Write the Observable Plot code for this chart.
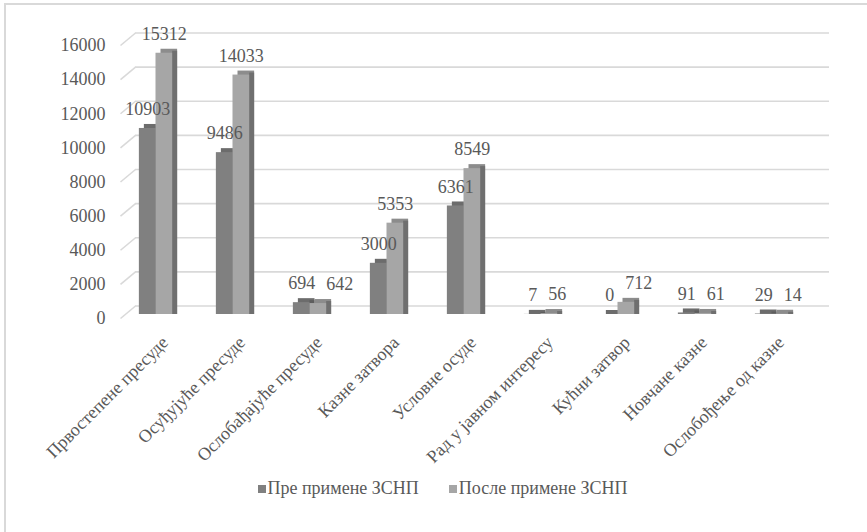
<!DOCTYPE html>
<html>
<head>
<meta charset="utf-8">
<script src="https://cdn.jsdelivr.net/npm/d3@7"></script>
<script src="https://cdn.jsdelivr.net/npm/@observablehq/plot@0.6"></script>
<style>
  html, body { margin: 0; padding: 0; background: #fff; }
  #wrap { position: relative; width: 867px; height: 532px; overflow: hidden; font-family: "Liberation Serif", "Times New Roman", serif; }
  #frame { position: absolute; left: 4px; top: 3px; width: 900px; height: 600px; border-left: 2px solid #d9d9d9; border-top: 2px solid #d9d9d9; box-sizing: border-box; pointer-events: none; }
  #chart { position: absolute; left: 0; top: 0; }
  #chart svg, #chart svg text { font-family: "Liberation Serif", "Times New Roman", serif !important; }
  #legend { position: absolute; left: 0; top: 478px; width: 867px; display: flex; justify-content: center; gap: 30px; font-size: 18px; color: #595959; padding-left: 18px; box-sizing: border-box; }
  .item { display: flex; align-items: center; gap: 2px; }
  .sw { width: 8px; height: 8px; display: inline-block; }
</style>
</head>
<body>
<div id="wrap">
  <div id="frame"></div>
  <div id="chart"></div>
  <div id="legend"></div>
</div>
<script>
const categories = [
  "Првостепене пресуде",
  "Осуђујуће пресуде",
  "Ослобађајуће пресуде",
  "Казне затвора",
  "Условне осуде",
  "Рад у јавном интересу",
  "Кућни затвор",
  "Новчане казне",
  "Ослобођење од казне"
];
const before = [10903, 9486, 694, 3000, 6361, 7, 0, 91, 29];
const after = [15312, 14033, 642, 5353, 8549, 56, 712, 61, 14];
const seriesNames = ["Пре примене ЗСНП", "После примене ЗСНП"];
const yTicks = [0, 2000, 4000, 6000, 8000, 10000, 12000, 14000, 16000];

// styles
const frontColors = ["#808080", "#a6a6a6"];
const topColors = ["#6c6c6c", "#8c8c8c"];
const sideColors = ["#5e5e5e", "#6f6f6f"];
const textColor = "#595959";
const gridColor = "#d9d9d9";
const font = "'Liberation Serif', 'Times New Roman', serif";
const fs = 18;

const W = 0.216; // half-group bar width in category units
const step = 77;  // px per category
const xDomain = [-0.461, 8.552];
const yDomain = [0, 16000];
const H = 475, marginTop = 41, marginBottom = H - 314;
const pxPerUnit = (H - marginBottom - marginTop) / (yDomain[1] - yDomain[0]);
const unitsPerPx = 1 / pxPerUnit;
const depthX = 15 / step; // wall depth in category units

const series = [before, after];
const rows = [];
series.forEach((vals, s) => {
  vals.forEach((v, i) => {
    rows.push({i, s, cat: categories[i], name: seriesNames[s], v,
      x1: s === 0 ? i - W : i, x2: s === 0 ? i : i + W, xc: s === 0 ? i - W / 2 : i + W / 2, dx: 0});
  });
});
// label collision avoidance: push the second label right when it collides with the first
const digitW = fs * 0.5, gap = 11;
categories.forEach((c, i) => {
  const a = rows.find(r => r.i === i && r.s === 0), b = rows.find(r => r.i === i && r.s === 1);
  if (Math.abs(a.v - b.v) * pxPerUnit < fs) {
    const wa = String(a.v).length * digitW, wb = String(b.v).length * digitW;
    const ca = a.xc * step, cb = b.xc * step;
    const need = ca + wa / 2 + gap + wb / 2;
    if (cb < need) b.dx = need - cb;
  }
});

const barMarks = [];
[0, 1].forEach(s => {
  const d = rows.filter(r => r.s === s);
  barMarks.push(
    Plot.rect(d, {x1: "x1", x2: "x2", y1: 0, y2: "v", fill: topColors[s], dx: 5, insetTop: -4}),
    Plot.rect(d, {x1: "x2", x2: "x2", y1: 0, y2: "v", fill: sideColors[s], insetRight: -5, insetTop: -2}),
    Plot.rect(d, {x1: "x1", x2: "x2", y1: 0, y2: "v", fill: frontColors[s]})
  );
});

const chart = Plot.plot({
  width: 867,
  height: H,
  marginLeft: 120,
  marginRight: 867 - 814,
  marginTop,
  marginBottom,
  style: {fontFamily: font, fontSize: fs + "px", color: textColor, background: "transparent"},
  x: {type: "linear", domain: xDomain, axis: null},
  y: {domain: yDomain, axis: null},
  marks: [
    // back wall gridlines
    Plot.ruleY(yTicks, {x1: xDomain[0] + depthX, x2: xDomain[1] + depthX, stroke: gridColor, strokeWidth: 1.6, dy: -8.5}),
    // side wall diagonals
    Plot.link(yTicks, {x1: xDomain[0], x2: xDomain[0] + depthX,
      y1: d => d - 4 * unitsPerPx, y2: d => d + 8.5 * unitsPerPx, stroke: gridColor, strokeWidth: 1.6}),
    // y tick labels
    Plot.text(yTicks, {x: xDomain[0], y: d => d, text: d => String(d), textAnchor: "end", dx: -15, dy: 4,
      fill: textColor, fontSize: fs, fontFamily: font}),
    ...barMarks,
    // value labels (second series shifted when crowded)
    ...[0, 1].map(s => {
      const d = rows.filter(r => r.s === s);
      return Plot.text(d, {x: d2 => d2.xc + d2.dx / step, y: "v", text: d2 => String(d2.v), dy: -19,
        fill: textColor, fontSize: fs, fontFamily: font});
    }),
    // category labels
    Plot.text(categories.map((c, i) => ({c, i})), {x: "i", y: 0, text: "c", rotate: -45, textAnchor: "end",
      dx: 9, dy: 25, fill: textColor, fontSize: fs, fontFamily: font})
  ]
});
document.getElementById("chart").appendChild(chart);

const legend = document.getElementById("legend");
seriesNames.forEach((n, s) => {
  const it = document.createElement("div");
  it.className = "item";
  const sw = document.createElement("span");
  sw.className = "sw";
  sw.style.background = frontColors[s];
  const t = document.createElement("span");
  t.textContent = n;
  it.appendChild(sw);
  it.appendChild(t);
  legend.appendChild(it);
});
</script>
</body>
</html>
